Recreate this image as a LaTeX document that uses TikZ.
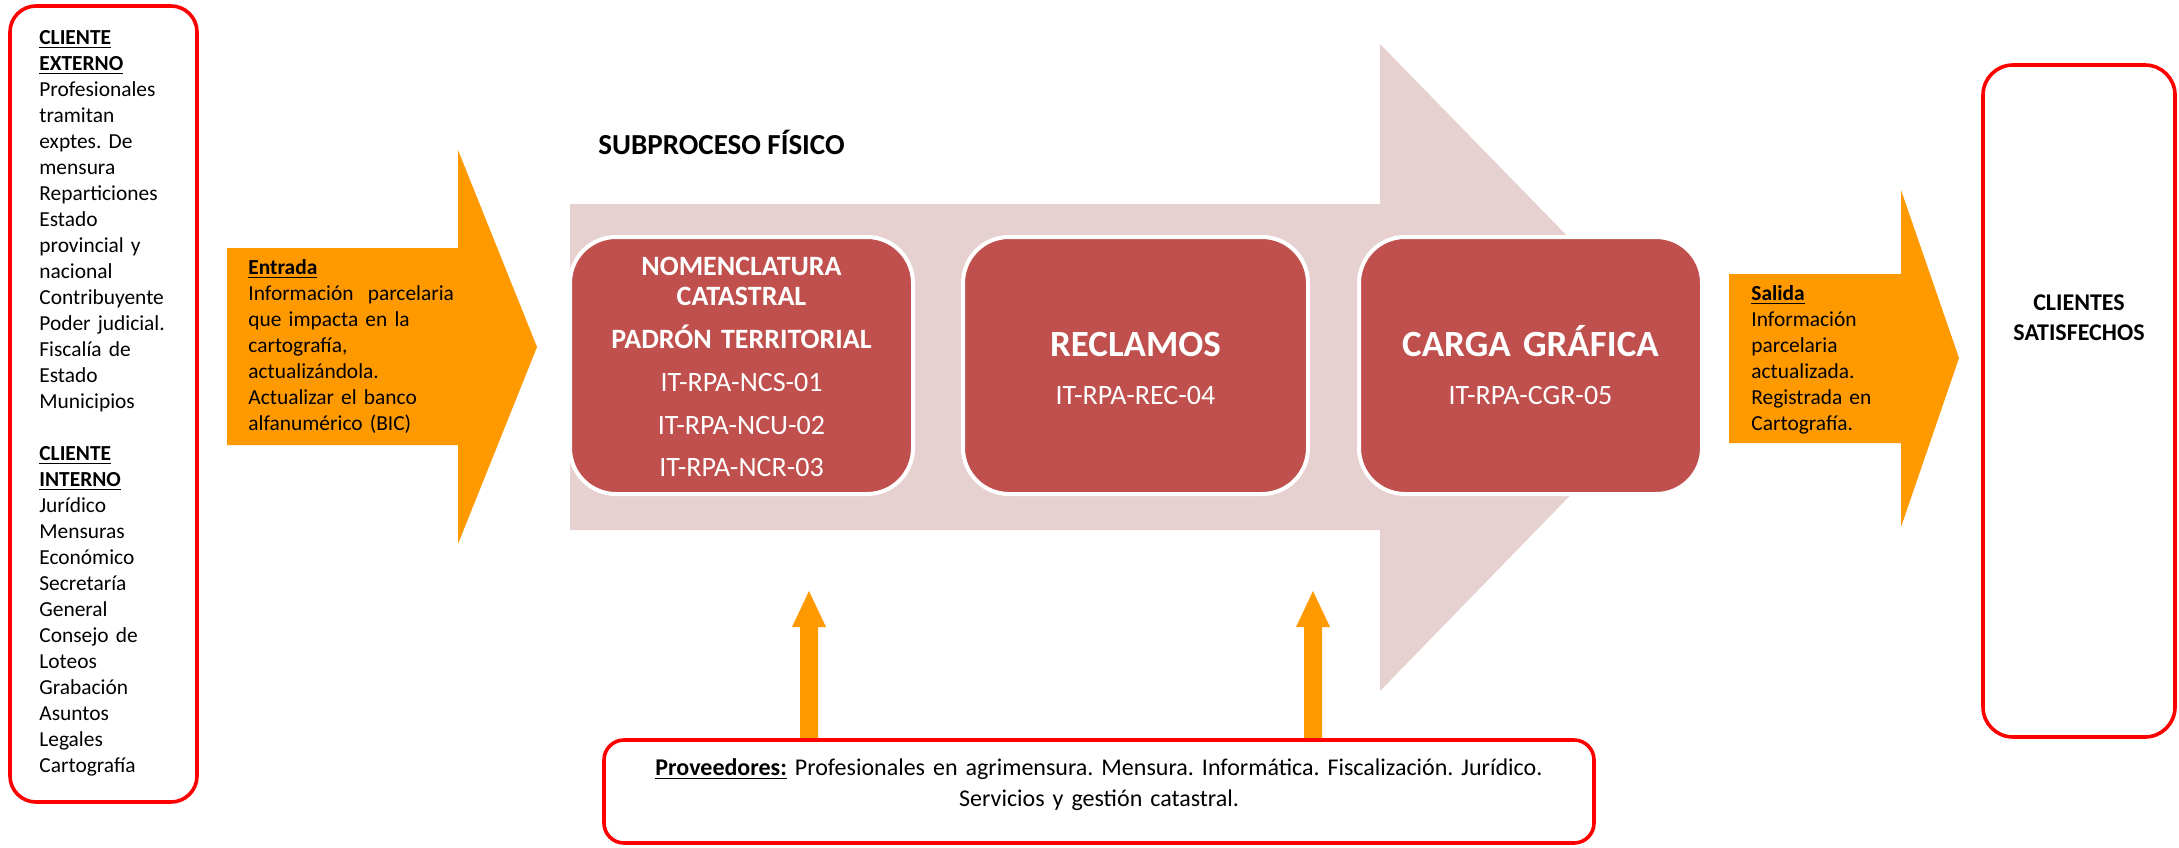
\documentclass[tikz,border=0pt]{standalone}
\usepackage{fontspec}
\setmainfont{Carlito}
\frenchspacing
\definecolor{pinkarrow}{RGB}{231,208,208}
\definecolor{orangearrow}{RGB}{255,153,0}
\definecolor{procred}{RGB}{192,80,77}
\definecolor{clientred}{RGB}{255,0,0}
\tikzset{
  clientbox/.style={draw=clientred, fill=white, line width=1.8pt, rounded corners=13pt, inner sep=0pt},
  procbox/.style={fill=procred, draw=white, line width=2pt, rounded corners=23pt, inner sep=0pt},
  blockarrow/.style={fill=orangearrow},
  bigarrow/.style={fill=pinkarrow},
  bodytext/.style={inner sep=0pt, align=left, font=\fontsize{10.7}{13}\selectfont},
  proctext/.style={inner sep=0pt, align=center, text=white, text width=165pt},
  headtext/.style={inner sep=0pt, font=\bfseries\fontsize{14.5}{16}\selectfont},
}
\begin{document}
\begin{tikzpicture}[x=0.5pt,y=-0.5pt]
\useasboundingbox[fill=white] (0,0) rectangle (2179,847);

% big pink process arrow
\fill[bigarrow] (570,204) -- (1380,204) -- (1380,44) -- (1695,367) -- (1380,691) -- (1380,530) -- (570,530) -- cycle;

% title
\node[headtext, anchor=base west] (subtitle) at (598,154) {SUBPROCESO FÍSICO};

% process boxes
\node[procbox, minimum width=171.5pt, minimum height=128.5pt] (b1) at (741.5,365.5) {};
\node[procbox, minimum width=172.5pt, minimum height=128.5pt] (b2) at (1135.5,365.5) {};
\node[procbox, minimum width=171.5pt, minimum height=128.5pt] (b3) at (1530.5,365.5) {};

\node[proctext, anchor=base, font=\fontsize{14}{15.15}\selectfont] (b1text) at (741.5,275)
  {\textbf{NOMENCLATURA}\\\textbf{CATASTRAL}\\[6.3pt]\textbf{PADRÓN TERRITORIAL}\\[6.3pt]IT-RPA-NCS-01\\[6.3pt]IT-RPA-NCU-02\\[6.3pt]IT-RPA-NCR-03};
\node[proctext, anchor=base, font=\bfseries\fontsize{18.5}{20}\selectfont] (b2title) at (1135.5,356) {RECLAMOS};
\node[proctext, anchor=base, font=\fontsize{14}{16}\selectfont] (b2code) at (1135.5,404.5) {IT-RPA-REC-04};
\node[proctext, anchor=base, font=\bfseries\fontsize{18.5}{20}\selectfont] (b3title) at (1530.5,356) {CARGA GRÁFICA};
\node[proctext, anchor=base, font=\fontsize{14}{16}\selectfont] (b3code) at (1530.5,404.5) {IT-RPA-CGR-05};

% entrada arrow
\fill[blockarrow] (227,248) -- (458,248) -- (458,150) -- (537,347) -- (458,544) -- (458,445) -- (227,445) -- cycle;
\node[bodytext, text width=112pt, anchor=base west] (entrada) at (248,274.5)
  {\textbf{\underline{Entrada}}\\Información\ \ parcelaria\\que impacta en la\\cartografía,\\actualizándola.\\Actualizar el banco\\alfanumérico (BIC)};

% salida arrow
\fill[blockarrow] (1729,274) -- (1901,274) -- (1901,190) -- (1959,358) -- (1901,527) -- (1901,443) -- (1729,443) -- cycle;
\node[bodytext, text width=80pt, anchor=base west] (salida) at (1751,300.5)
  {\textbf{\underline{Salida}}\\Información\\parcelaria\\actualizada.\\Registrada en\\Cartografía.};

% supplier arrows
\coordinate (up1) at (809,591);
\coordinate (up2) at (1313,591);
\fill[blockarrow] (800,742) -- (800,627) -- (792,627) -- (up1) -- (826,627) -- (818,627) -- (818,742) -- cycle;
\fill[blockarrow] (1304,742) -- (1304,627) -- (1296,627) -- (up2) -- (1330,627) -- (1322,627) -- (1322,742) -- cycle;

% client boxes
\node[clientbox, minimum width=93.5pt, minimum height=398pt] (ext) at (103.5,404) {};
\node[bodytext, text width=85pt, anchor=base west] (exttext) at (39,44)
  {\textbf{\underline{CLIENTE}}\\\textbf{\underline{EXTERNO}}\\Profesionales\\tramitan\\exptes. De\\mensura\\Reparticiones\\Estado\\provincial y\\nacional\\Contribuyente\\Poder judicial.\\Fiscalía de\\Estado\\Municipios\\[13pt]\textbf{\underline{CLIENTE}}\\\textbf{\underline{INTERNO}}\\Jurídico\\Mensuras\\Económico\\Secretaría\\General\\Consejo de\\Loteos\\Grabación\\Asuntos\\Legales\\Cartografía};

\node[clientbox, minimum width=96pt, minimum height=336pt, rounded corners=15pt] (sat) at (2079,401) {};
\node[inner sep=0pt, align=center, text width=90pt, anchor=base, font=\bfseries\fontsize{12}{15}\selectfont] (sattext) at (2079,310) {CLIENTES\\SATISFECHOS};

\node[clientbox, minimum width=495pt, minimum height=51.5pt, rounded corners=10pt] (prov) at (1099,791.5) {};
\node[inner sep=0pt, align=center, text width=490pt, anchor=base, font=\fontsize{12}{15.5}\selectfont] (provtext) at (1099,775)
  {\textbf{\underline{Proveedores:}} Profesionales en agrimensura. Mensura. Informática. Fiscalización. Jurídico.\\Servicios y gestión catastral.};
\end{tikzpicture}
\end{document}
